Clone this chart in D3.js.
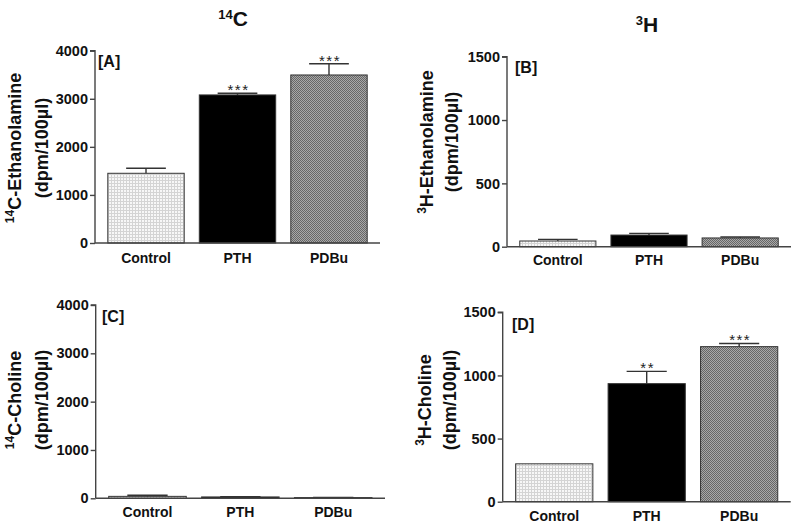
<!DOCTYPE html>
<html><head><meta charset="utf-8">
<script src="https://cdn.jsdelivr.net/npm/d3@7"></script>
<style>body{margin:0;background:#fff}svg{display:block}text{font-family:"Liberation Sans",Arial,sans-serif}</style>
</head><body>
<svg id="c" width="800" height="528"></svg>
<script>
const categories = ["Control", "PTH", "PDBu"];
// Panel A: 14C-Ethanolamine
const aMeans = [1450, 3080, 3495];
const aErrs = [105, 35, 235];
const aStars = ["", "***", "***"];
// Panel B: 3H-Ethanolamine
const bMeans = [45, 92, 69];
const bErrs = [13, 13, 7];
const bStars = ["", "", ""];
// Panel C: 14C-Choline
const cMeans = [40, 28, 15];
const cErrs = [22, 5, 3];
const cStars = ["", "", ""];
// Panel D: 3H-Choline
const dMeans = [300, 935, 1228];
const dErrs = [0, 97, 25];
const dStars = ["", "**", "***"];
const ticks4000 = [0, 1000, 2000, 3000, 4000];
const ticks1500 = [0, 500, 1000, 1500];

const svg = d3.select("#c");
const defs = svg.append("defs");
// light dotted grid pattern (Control)
const p1 = defs.append("pattern").attr("id","pCtrl").attr("patternUnits","userSpaceOnUse").attr("width",3).attr("height",3);
p1.append("rect").attr("width",3).attr("height",3).attr("fill","#f7f7f7");
p1.append("rect").attr("x",0).attr("y",0).attr("width",3).attr("height",1).attr("fill","#d4d4d4");
p1.append("rect").attr("x",0).attr("y",0).attr("width",1).attr("height",3).attr("fill","#d4d4d4");
// checker pattern (PDBu)
const p2 = defs.append("pattern").attr("id","pPdbu").attr("patternUnits","userSpaceOnUse").attr("width",2).attr("height",2);
p2.append("rect").attr("width",2).attr("height",2).attr("fill","#a8a8a8");
p2.append("rect").attr("width",1).attr("height",1).attr("fill","#666");
p2.append("rect").attr("x",1).attr("y",1).attr("width",1).attr("height",1).attr("fill","#666");
const fills = ["url(#pCtrl)", "#000", "url(#pPdbu)"];

const panels = [
  {means:aMeans, errs:aErrs, stars:aStars, ticks:ticks4000, max:4000, x0:95, x1:380, yTop:50.7, yBot:243,
   tag:"[A]", tagX:98, tagY:67, sup:"14", lab1:"C-Ethanolamine", l1x:21, l2x:48, ly:148, catY:263},
  {means:bMeans, errs:bErrs, stars:bStars, ticks:ticks1500, max:1500, x0:507, x1:791, yTop:56.7, yBot:246.7,
   tag:"[B]", tagX:515, tagY:73, sup:"3", lab1:"H-Ethanolamine", l1x:433, l2x:458, ly:142, catY:265},
  {means:cMeans, errs:cErrs, stars:cStars, ticks:ticks4000, max:4000, x0:95.7, x1:385, yTop:305, yBot:498.3,
   tag:"[C]", tagX:102, tagY:322, sup:"14", lab1:"C-Choline", l1x:21, l2x:48, ly:400, catY:517},
  {means:dMeans, errs:dErrs, stars:dStars, ticks:ticks1500, max:1500, x0:502.7, x1:790.7, yTop:312.3, yBot:501.7,
   tag:"[D]", tagX:512, tagY:330, sup:"3", lab1:"H-Choline", l1x:431, l2x:456, ly:400, catY:521}
];

panels.forEach(p => {
  const g = svg.append("g");
  const y = d3.scaleLinear().domain([0, p.max]).range([p.yBot, p.yTop]);
  const x = d3.scaleBand().domain(categories).range([p.x0, p.x1]).paddingInner(0.165).paddingOuter(0.14);
  // bars
  g.selectAll("rect.bar").data(categories).enter().append("rect")
    .attr("x", d => x(d)).attr("width", x.bandwidth())
    .attr("y", (d,i) => y(p.means[i])).attr("height", (d,i) => p.yBot - y(p.means[i]))
    .attr("fill", (d,i) => fills[i]).attr("stroke", "#333").attr("stroke-width", 1);
  // error bars
  categories.forEach((d,i) => {
    if (!p.errs[i]) return;
    const cx = x(d) + x.bandwidth()/2;
    const hw = x.bandwidth()*0.26;
    g.append("line").attr("x1",cx).attr("x2",cx).attr("y1",y(p.means[i])).attr("y2",y(p.means[i]+p.errs[i]))
      .attr("stroke","#333").attr("stroke-width",1.4);
    g.append("line").attr("x1",cx-hw).attr("x2",cx+hw).attr("y1",y(p.means[i]+p.errs[i])).attr("y2",y(p.means[i]+p.errs[i]))
      .attr("stroke","#333").attr("stroke-width",1.4);
    if (p.stars[i]) {
      g.append("text").attr("x",cx+1).attr("y",y(p.means[i]+p.errs[i])+2).attr("text-anchor","middle")
        .attr("font-size",15).attr("letter-spacing",1.5).attr("fill","#222").text(p.stars[i]);
    }
  });
  // y axis
  const ya = g.append("g").attr("transform",`translate(${p.x0},0)`)
    .call(d3.axisLeft(y).tickValues(p.ticks).tickSize(5).tickPadding(2).tickFormat(d3.format("d")));
  ya.selectAll("path,line").attr("stroke","#444").attr("stroke-width",1.4);
  ya.selectAll("text").attr("font-size",14.5).attr("font-weight","bold").attr("fill","#111")
    .attr("font-family","'Liberation Sans',Arial,sans-serif");
  ya.select(".domain").attr("d", `M-5,${p.yTop}H0V${p.yBot}`);
  // x axis
  const xa = g.append("g").attr("transform",`translate(0,${p.yBot})`)
    .call(d3.axisBottom(x).tickSize(0).tickPadding(0));
  xa.select(".domain").attr("stroke","#444").attr("stroke-width",1.4).attr("d",`M${p.x0},0H${p.x1}`);
  xa.selectAll("text").attr("y", p.catY - p.yBot).attr("dy", null).attr("font-size",14).attr("font-weight","bold")
    .attr("fill","#111").attr("font-family","'Liberation Sans',Arial,sans-serif");
  // panel tag
  g.append("text").attr("x",p.tagX).attr("y",p.tagY).attr("font-size",16).attr("font-weight","bold").attr("fill","#111").text(p.tag);
  // y label
  const t1 = g.append("text").attr("transform",`translate(${p.l1x},${p.ly}) rotate(-90)`).attr("text-anchor","middle")
    .attr("font-size",18).attr("font-weight","bold").attr("fill","#111");
  t1.append("tspan").attr("font-size",12).attr("baseline-shift","super").text(p.sup);
  t1.append("tspan").text(p.lab1);
  g.append("text").attr("transform",`translate(${p.l2x},${p.ly}) rotate(-90)`).attr("text-anchor","middle")
    .attr("font-size",18).attr("font-weight","bold").attr("fill","#111").text("(dpm/100\u00b5l)");
});

// column titles
const titles = [{sup:"14", main:"C", x:233, y:26}, {sup:"3", main:"H", x:647, y:32}];
titles.forEach(t => {
  const tx = svg.append("text").attr("x",t.x).attr("y",t.y).attr("text-anchor","middle")
    .attr("font-size",21).attr("font-weight","bold").attr("fill","#111");
  tx.append("tspan").attr("font-size",13).attr("baseline-shift","super").text(t.sup);
  tx.append("tspan").text(t.main);
});
</script>
</body></html>
